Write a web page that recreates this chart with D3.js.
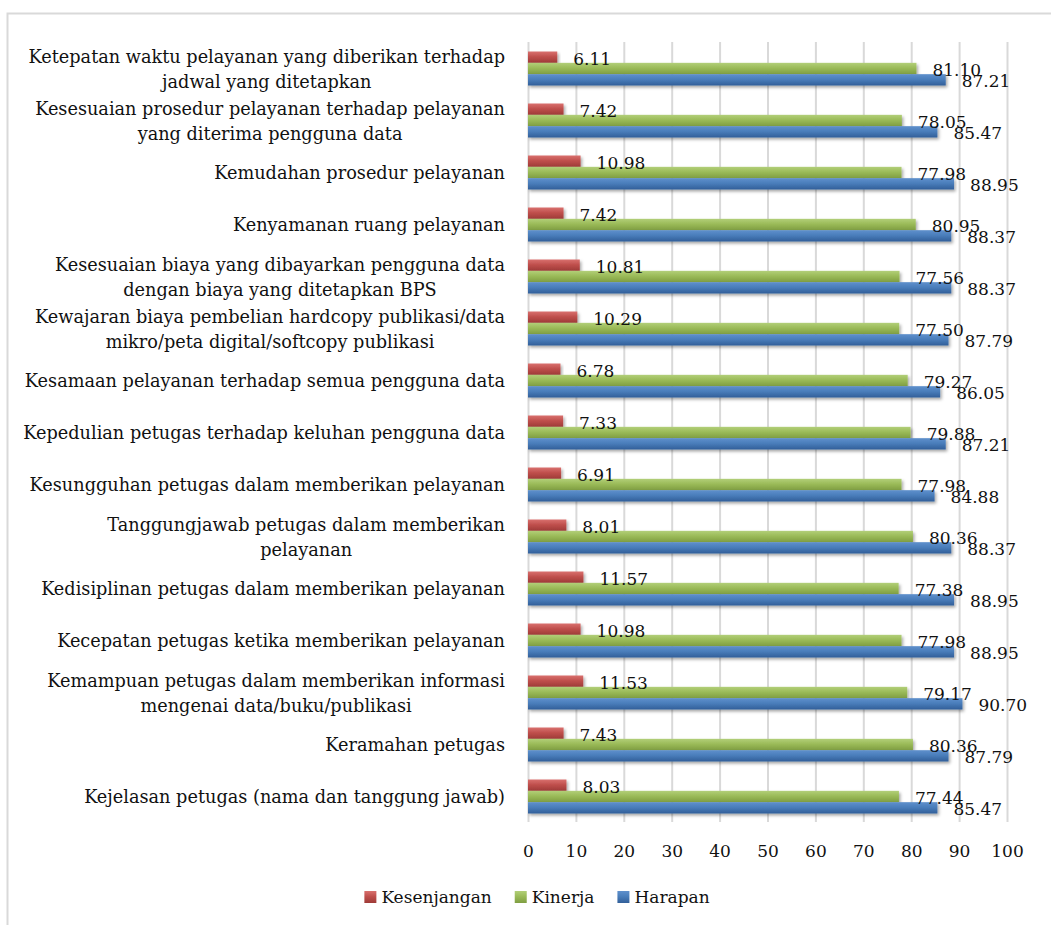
<!DOCTYPE html>
<html>
<head>
<meta charset="utf-8">
<script src="https://cdn.jsdelivr.net/npm/d3@7"></script>
<style>
  html, body { margin: 0; padding: 0; background: #fff; }
  svg { display: block; }
  text { font-family: "DejaVu Serif", "Liberation Serif", serif; fill: #111; }
</style>
</head>
<body>
<div id="chart"></div>
<script>
// Survey items (top to bottom); "\n" marks a line break in the label
const categories = [
  "Ketepatan waktu pelayanan yang diberikan terhadap\njadwal yang ditetapkan",
  "Kesesuaian prosedur pelayanan terhadap pelayanan\nyang diterima pengguna data",
  "Kemudahan prosedur pelayanan",
  "Kenyamanan ruang pelayanan",
  "Kesesuaian biaya yang dibayarkan pengguna data\ndengan biaya yang ditetapkan BPS",
  "Kewajaran biaya pembelian hardcopy publikasi/data\nmikro/peta digital/softcopy publikasi",
  "Kesamaan pelayanan terhadap semua pengguna data",
  "Kepedulian petugas terhadap keluhan pengguna data",
  "Kesungguhan petugas dalam memberikan pelayanan",
  "Tanggungjawab petugas dalam memberikan\npelayanan",
  "Kedisiplinan petugas dalam memberikan pelayanan",
  "Kecepatan petugas ketika memberikan pelayanan",
  "Kemampuan petugas dalam memberikan informasi\nmengenai data/buku/publikasi",
  "Keramahan petugas",
  "Kejelasan petugas (nama dan tanggung jawab)"
];

const kesenjangan = [6.11, 7.42, 10.98, 7.42, 10.81, 10.29, 6.78, 7.33, 6.91, 8.01, 11.57, 10.98, 11.53, 7.43, 8.03];
const kinerja     = [81.10, 78.05, 77.98, 80.95, 77.56, 77.50, 79.27, 79.88, 77.98, 80.36, 77.38, 77.98, 79.17, 80.36, 77.44];
const harapan     = [87.21, 85.47, 88.95, 88.37, 88.37, 87.79, 86.05, 87.21, 84.88, 88.37, 88.95, 88.95, 90.70, 87.79, 85.47];

const seriesNames = ["Kesenjangan", "Kinerja", "Harapan"];
const xTicks = [0, 10, 20, 30, 40, 50, 60, 70, 80, 90, 100];

const W = 1051, H = 925;
const margin = { left: 528, right: 44, top: 42, bottom: 103 };

const palette = {
  Kesenjangan: { top: "#d9716e", mid: "#c0504d", bot: "#9e3a37" },
  Kinerja:     { top: "#b2cf78", mid: "#9bbb59", bot: "#7f9e42" },
  Harapan:     { top: "#5f90cc", mid: "#4a7ebb", bot: "#325f99" }
};

const seriesData = {
  Kesenjangan: kesenjangan,
  Kinerja: kinerja,
  Harapan: harapan
};

const svg = d3.select("#chart").append("svg")
  .attr("width", W).attr("height", H);

const defs = svg.append("defs");
seriesNames.forEach((s, i) => {
  const g = defs.append("linearGradient")
    .attr("id", "grad" + i).attr("x1", 0).attr("y1", 0).attr("x2", 0).attr("y2", 1);
  g.append("stop").attr("offset", "0%").attr("stop-color", palette[s].top);
  g.append("stop").attr("offset", "45%").attr("stop-color", palette[s].mid);
  g.append("stop").attr("offset", "100%").attr("stop-color", palette[s].bot);
});
const shadow = defs.append("filter").attr("id", "barShadow")
  .attr("x", "-5%").attr("y", "-40%").attr("width", "115%").attr("height", "200%");
shadow.append("feDropShadow")
  .attr("dx", 1.5).attr("dy", 2).attr("stdDeviation", 1.5)
  .attr("flood-color", "#000").attr("flood-opacity", 0.35);

// Outer frame of the chart area
svg.append("path")
  .attr("d", `M7.5,${H + 5} V13.5 H${W + 5}`)
  .attr("fill", "none").attr("stroke", "#d9d9d9").attr("stroke-width", 2);

const x = d3.scaleLinear().domain([0, 100]).range([margin.left, W - margin.right]);
const y = d3.scaleBand().domain(categories).range([margin.top, H - margin.bottom]).padding(0);
const sub = d3.scaleBand().domain(seriesNames).range([9.5, 43.5]).padding(0);

const plotBottom = H - margin.bottom;

// Vertical gridlines
svg.append("g")
  .attr("transform", `translate(0,${plotBottom})`)
  .call(d3.axisBottom(x).tickValues(xTicks).tickSize(-(plotBottom - margin.top)).tickFormat(""))
  .call(g => g.select(".domain").remove())
  .call(g => g.selectAll("line").attr("stroke", "#d9d9d9").attr("stroke-width", 2));

// Tick labels
svg.append("g")
  .attr("transform", `translate(0,${plotBottom + 20})`)
  .call(d3.axisBottom(x).tickValues(xTicks).tickSize(0).tickFormat(d3.format("d")))
  .call(g => g.select(".domain").remove())
  .call(g => g.selectAll("text")
    .attr("font-size", 17).attr("fill", "#111")
    .attr("font-family", "DejaVu Serif, Liberation Serif, serif"));

// Bars
const groups = svg.append("g");
seriesNames.forEach((s, si) => {
  groups.append("g").selectAll("rect")
    .data(seriesData[s].map((v, i) => ({ cat: categories[i], v })))
    .join("rect")
    .attr("x", x(0))
    .attr("y", d => y(d.cat) + sub(s))
    .attr("width", d => x(d.v) - x(0))
    .attr("height", sub.bandwidth())
    .attr("fill", `url(#grad${si})`)
    .attr("filter", "url(#barShadow)");
});

// Value labels
seriesNames.forEach(s => {
  svg.append("g").selectAll("text")
    .data(seriesData[s].map((v, i) => ({ cat: categories[i], v })))
    .join("text")
    .attr("x", d => x(d.v) + 16)
    .attr("y", d => y(d.cat) + sub(s) + sub.bandwidth() / 2 + 1.5)
    .attr("dy", "0.36em")
    .attr("font-size", 17)
    .text(d => d.v.toFixed(2));
});

// Category labels: block right-aligned, lines centred within the block
const labelRight = 505, lineH = 25;
const catG = svg.append("g");
categories.forEach(c => {
  const lines = c.split("\n");
  const t = catG.append("text").attr("font-size", 17.7).attr("text-anchor", "middle");
  const cy = y(c) + y.bandwidth() / 2 + 1;
  lines.forEach((ln, li) => {
    t.append("tspan")
      .attr("y", cy + (li - (lines.length - 1) / 2) * lineH)
      .attr("dy", "0.36em")
      .text(ln);
  });
  let maxW = 0;
  t.selectAll("tspan").each(function () { maxW = Math.max(maxW, this.getComputedTextLength()); });
  t.selectAll("tspan").attr("x", labelRight - maxW / 2);
});

// Legend
const legend = svg.append("g");
const legendY = 897;
let lx = 0;
const items = [];
seriesNames.forEach((s, si) => {
  const g = legend.append("g");
  g.append("rect").attr("x", lx).attr("y", legendY - 6).attr("width", 12).attr("height", 12)
    .attr("fill", `url(#grad${si})`);
  const t = g.append("text").attr("x", lx + 17).attr("y", legendY).attr("dy", "0.36em")
    .attr("font-size", 17).text(s);
  lx += 17 + t.node().getComputedTextLength() + 23;
});
const legendW = lx - 23;
legend.attr("transform", `translate(${537 - legendW / 2},0)`);
</script>
</body>
</html>
